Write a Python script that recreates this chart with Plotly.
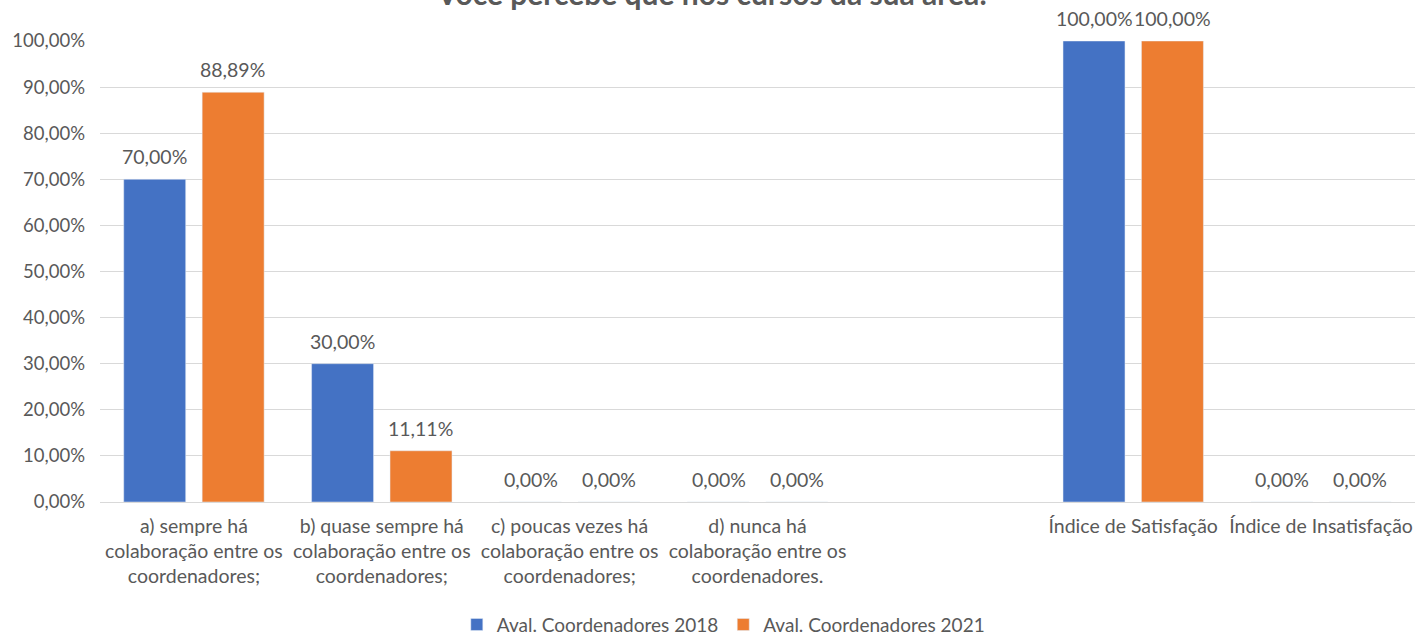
import plotly.graph_objects as go

categories = [
    "a) sempre há<br>colaboração entre os<br>coordenadores;",
    "b) quase sempre há<br>colaboração entre os<br>coordenadores;",
    "c) poucas vezes há<br>colaboração entre os<br>coordenadores;",
    "d) nunca há<br>colaboração entre os<br>coordenadores.",
    " ",
    "Índice de Satisfação",
    "Índice de Insatisfação",
]
values_2018 = [0.70, 0.30, 0.0, 0.0, None, 1.00, 0.0]
values_2021 = [0.8889, 0.1111, 0.0, 0.0, None, 1.00, 0.0]
series_names = ["Aval. Coordenadores 2018", "Aval. Coordenadores 2021"]
colors = ["#4472C4", "#ED7D31"]
title_text = "Você percebe que nos cursos da sua área:"

font_family = "Lato, 'Open Sans', sans-serif"
gray = "#595959"

fig = go.Figure()
for name, vals, col in zip(series_names, [values_2018, values_2021], colors):
    fig.add_trace(go.Bar(
        x=categories, y=vals, name=name, marker_color=col,
        cliponaxis=False,
    ))

# data labels placed above each bar, slightly raised like the reference
for vals, shift in zip([values_2018, values_2021], [-39, 39]):
    for cat, v in zip(categories, vals):
        if v is None:
            continue
        fig.add_annotation(x=cat, y=v, xref="x", yref="y", text=f"{v*100:.2f}%".replace(".", ","),
                           showarrow=False, xshift=shift, yshift=9, yanchor="bottom",
                           font=dict(size=19.5, color=gray, family=font_family))

fig.add_annotation(text="<b>" + title_text + "</b>", xref="paper", yref="paper",
                   x=0.465, y=1.104, xanchor="center", yanchor="middle",
                   showarrow=False, font=dict(size=30, color=gray, family=font_family))

fig.update_layout(
    width=1415, height=637,
    separators=",.",
    paper_bgcolor="white", plot_bgcolor="white",
    font=dict(family=font_family, color=gray, size=18),
    margin=dict(l=100, r=0, t=41, b=135, autoexpand=False),
    barmode="group", bargap=0.165, bargroupgap=0.21,
    legend=dict(orientation="h", x=0.474, xanchor="center", y=-0.266, yanchor="middle",
                font=dict(size=19, color=gray), itemwidth=30, traceorder="normal"),
    showlegend=True,
)
fig.update_yaxes(range=[0, 1.0], dtick=0.1, tickformat=".2%", showgrid=True,
                 gridcolor="#D9D9D9", gridwidth=1, zeroline=True, zerolinecolor="#D9D9D9",
                 zerolinewidth=1, showline=False, ticks="", ticklabelstandoff=14,
                 tickfont=dict(size=18.5, color=gray))
fig.update_xaxes(showline=False, ticks="", tickangle=0, tickfont=dict(size=19.5, color=gray),
                 ticklabelstandoff=10)

fig.write_html("out.html", config={"displayModeBar": False},
               post_script="document.body.style.margin='0';document.body.style.overflow='hidden';")
